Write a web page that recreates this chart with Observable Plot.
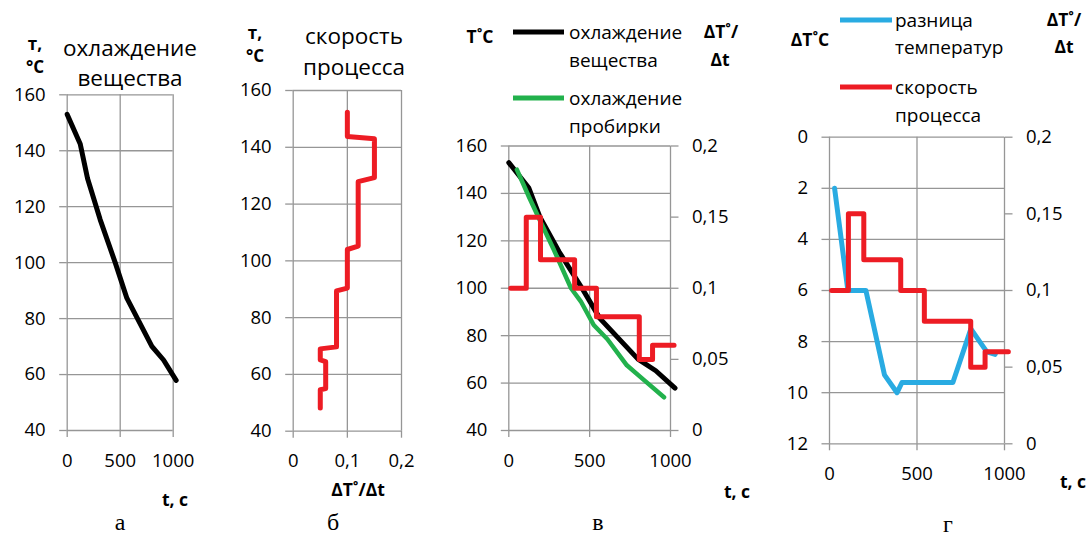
<!DOCTYPE html>
<html><head><meta charset="utf-8">
<script src="https://cdn.jsdelivr.net/npm/d3@7"></script>
<script src="https://cdn.jsdelivr.net/npm/@observablehq/plot@0.6"></script>
<style>
body{margin:0;background:#fff;}
#root{position:relative;width:1088px;height:536px;overflow:hidden;font-family:"Open Sans",sans-serif;color:#000;background:#fff;}
#root svg{position:absolute;top:0;}
.t{position:absolute;white-space:nowrap;transform:translate(-50%,-50%);line-height:1;}
.tl{position:absolute;white-space:nowrap;transform:translate(0,-50%);line-height:1;}
.sw{position:absolute;height:5px;transform:translateY(-50%);}
</style></head><body><div id="root"></div>
<script>
// ---- data ----
const timeTicks = [0, 500, 1000];
const tempTicks = [40, 60, 80, 100, 120, 140, 160];
const rateTicks = [0, 0.05, 0.1, 0.15, 0.2];
const rateTicksB = [0, 0.1, 0.2];
const diffTicks = [0, 2, 4, 6, 8, 10, 12];

// cooling of the substance (black)
const coolTime = [0, 123, 192, 311, 453, 563, 799, 909, 1028];
const coolTemp = [153, 142.4, 130.1, 115.4, 100, 87.3, 70.1, 65.2, 57.9];
// cooling of the test tube (green)
const tubeTime = [50, 125, 200, 280, 385, 445, 525, 610, 730, 815, 960];
const tubeTemp = [150, 138.5, 127.5, 116, 100, 94.5, 84.5, 78.5, 67.5, 62.5, 54];
// process rate vs time (red, steps)
const rateBreaks = [12, 108, 196, 407, 542, 807, 889, 1022];
const rateValues = [0.10, 0.15, 0.12, 0.10, 0.08, 0.05, 0.06];
// process rate vs temperature (panel б)
const rateByTempRate = [0.1, 0.1, 0.15, 0.15, 0.12, 0.12, 0.1, 0.1, 0.08, 0.08, 0.05, 0.05, 0.06, 0.06, 0.05, 0.05];
const rateByTempT = [152.3, 143.8, 143, 129.3, 127.9, 105.2, 104, 90.4, 89.4, 69.7, 69, 65.1, 64.5, 55, 54.6, 48.2];
// temperature difference (blue)
const diffTime = [29, 105, 208, 314, 386, 414, 705, 808, 899, 947];
const diffValue = [2, 6, 6, 9.3, 10, 9.6, 9.6, 7.5, 8.4, 8.5];

// ---- helpers ----
const root = document.getElementById("root");
const BLACK = "#000000", GREEN = "#22b14c", RED = "#ed1c24", BLUE = "#29abe2";
const GRID = "#969696";
const comma = d => String(d).replace(".", ",");
const plain = d => String(d);
const baseStyle = {fontFamily: '"Open Sans", sans-serif', fontSize: "18.5px", color: "#000", background: "none", overflow: "visible"};
const gridOpt = {stroke: GRID, strokeOpacity: 1, strokeWidth: 1.3};
const tickOpt = {stroke: GRID, strokeOpacity: 1, strokeWidth: 1.3, fill: "#000", label: null};
const lineOpt = (c, w) => ({stroke: c, strokeWidth: w, strokeLinejoin: "round", strokeLinecap: "round"});

const cool = coolTime.map((t, i) => ({t, v: coolTemp[i]}));
const tube = tubeTime.map((t, i) => ({t, v: tubeTemp[i]}));
const rateSteps = rateBreaks.map((t, i) => ({t, v: rateValues[Math.min(i, rateValues.length - 1)]}));
const rateTemp = rateByTempRate.map((r, i) => ({r, T: rateByTempT[i]}));
const diff = diffTime.map((t, i) => ({t, v: diffValue[i]}));

function place(svg, left) { svg.style.left = left + "px"; root.appendChild(svg); }
function txt(s, x, y, o = {}) {
  const d = document.createElement("div");
  d.className = o.left ? "tl" : "t";
  d.textContent = s;
  d.style.left = x + "px"; d.style.top = y + "px";
  d.style.fontSize = (o.size || 19) + "px";
  if (o.bold) d.style.fontWeight = "bold";
  if (o.serif) d.style.fontFamily = '"Liberation Serif", serif';
  root.appendChild(d);
}
function swatch(x1, x2, y, c) {
  const d = document.createElement("div");
  d.className = "sw"; d.style.left = x1 + "px"; d.style.width = (x2 - x1) + "px";
  d.style.top = y + "px"; d.style.background = c; root.appendChild(d);
}

// ---- panel а ----
place(Plot.plot({
  width: 220, height: 536, marginLeft: 66.7, marginRight: 47.3, marginTop: 94.3, marginBottom: 106,
  style: baseStyle,
  x: {domain: [0, 1000]}, y: {domain: [40, 160]},
  marks: [
    Plot.gridX(timeTicks, gridOpt),
    Plot.gridY(tempTicks, gridOpt),
    Plot.axisX(timeTicks, {...tickOpt, tickSize: 7, tickPadding: 16, tickFormat: plain}),
    Plot.axisY(tempTicks, {...tickOpt, tickSize: 7.5, tickPadding: 14, tickFormat: plain}),
    Plot.line(cool, {x: "t", y: "v", ...lineOpt(BLACK, 5)})
  ]
}), 0);

// ---- panel б ----
place(Plot.plot({
  width: 220, height: 536, marginLeft: 72.7, marginRight: 39, marginTop: 90, marginBottom: 105.3,
  style: baseStyle,
  x: {domain: [0, 0.2]}, y: {domain: [40, 160]},
  marks: [
    Plot.gridX(rateTicksB, gridOpt),
    Plot.gridY(tempTicks, gridOpt),
    Plot.axisX(rateTicksB, {...tickOpt, tickSize: 7, tickPadding: 16, tickFormat: comma}),
    Plot.axisY(tempTicks, {...tickOpt, tickSize: 7.5, tickPadding: 14, tickFormat: plain}),
    Plot.line(rateTemp, {x: "r", y: "T", ...lineOpt(RED, 5)})
  ]
}), 220);

// ---- panel в ----
const vDims = {width: 320, height: 536, marginLeft: 68.3, marginRight: 90, marginTop: 145.5, marginBottom: 106};
place(Plot.plot({
  ...vDims, style: baseStyle,
  x: {domain: [0, 1000]}, y: {domain: [40, 160]},
  marks: [
    Plot.gridX(timeTicks, gridOpt),
    Plot.gridY(tempTicks, gridOpt),
    Plot.axisX(timeTicks, {...tickOpt, tickSize: 7, tickPadding: 16, tickFormat: plain}),
    Plot.axisY(tempTicks, {...tickOpt, tickSize: 7.5, tickPadding: 14, tickFormat: plain}),
    Plot.line(cool, {x: "t", y: "v", ...lineOpt(BLACK, 5)}),
    Plot.line(tube, {x: "t", y: "v", ...lineOpt(GREEN, 4.5)})
  ]
}), 440);
place(Plot.plot({
  ...vDims, style: baseStyle,
  x: {domain: [0, 1000], axis: null}, y: {domain: [0, 0.2]},
  marks: [
    Plot.axisY(rateTicks, {...tickOpt, anchor: "right", tickSize: 7.5, tickPadding: 14, tickFormat: comma}),
    Plot.line(rateSteps, {x: "t", y: "v", curve: "step-after", ...lineOpt(RED, 5)})
  ]
}), 440);

// ---- panel г ----
const gDims = {width: 328, height: 536, marginLeft: 69, marginRight: 84, marginTop: 136.7, marginBottom: 92.7};
place(Plot.plot({
  ...gDims, style: baseStyle,
  x: {domain: [0, 1000]}, y: {domain: [0, 12], reverse: true},
  marks: [
    Plot.gridX(timeTicks, gridOpt),
    Plot.gridY(diffTicks, gridOpt),
    Plot.axisX(timeTicks, {...tickOpt, tickSize: 7, tickPadding: 16, tickFormat: plain}),
    Plot.axisY(diffTicks, {...tickOpt, tickSize: 7.5, tickPadding: 14, tickFormat: plain}),
    Plot.line(diff, {x: "t", y: "v", ...lineOpt(BLUE, 5)})
  ]
}), 760);
place(Plot.plot({
  ...gDims, style: baseStyle,
  x: {domain: [0, 1000], axis: null}, y: {domain: [0, 0.2]},
  marks: [
    Plot.axisY(rateTicks, {...tickOpt, anchor: "right", tickSize: 7.5, tickPadding: 14, tickFormat: comma}),
    Plot.line(rateSteps, {x: "t", y: "v", curve: "step-after", ...lineOpt(RED, 5)})
  ]
}), 760);

// ---- texts ----
// а
txt("т,", 35, 43, {bold: true, size: 17});
txt("°C", 35, 66, {bold: true, size: 17});
txt("охлаждение", 130, 48, {size: 22.5});
txt("вещества", 130, 78, {size: 22.5});
txt("t, с", 175, 500, {bold: true, size: 17.5});
txt("а", 120, 522, {serif: true, size: 24});
// б
txt("т,", 255, 32, {bold: true, size: 17});
txt("°C", 255, 55, {bold: true, size: 17});
txt("скорость", 354, 36, {size: 22.5});
txt("процесса", 354, 67, {size: 22.5});
txt("ΔT˚/Δt", 358, 490, {bold: true, size: 17.5});
txt("б", 333, 522, {serif: true, size: 24});
// в
txt("T˚C", 480, 37, {bold: true, size: 17.5});
swatch(513, 564, 32, BLACK);
txt("охлаждение", 569, 32, {left: true});
txt("вещества", 569, 60, {left: true});
swatch(513, 564, 98, GREEN);
txt("охлаждение", 569, 98, {left: true});
txt("пробирки", 569, 126, {left: true});
txt("ΔT˚/", 721, 32, {bold: true, size: 17.5});
txt("Δt", 720, 60, {bold: true, size: 17.5});
txt("t, с", 737, 492, {bold: true, size: 17.5});
txt("в", 598, 522, {serif: true, size: 24});
// г
txt("ΔT˚C", 810, 40, {bold: true, size: 17.5});
swatch(840, 892, 20, BLUE);
txt("разница", 895, 20, {left: true});
txt("температур", 895, 47, {left: true});
swatch(840, 892, 87, RED);
txt("скорость", 895, 87, {left: true});
txt("процесса", 895, 115, {left: true});
txt("ΔT˚/", 1064, 20, {bold: true, size: 17.5});
txt("Δt", 1064, 47, {bold: true, size: 17.5});
txt("t, с", 1073, 482, {bold: true, size: 17.5});
txt("г", 948, 524, {serif: true, size: 24});
</script></body></html>
